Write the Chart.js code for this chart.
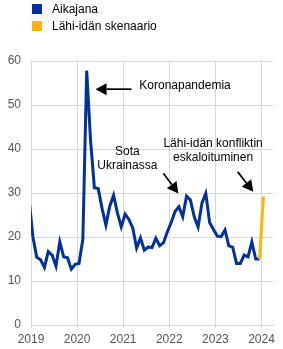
<!DOCTYPE html>
<html>
<head>
<meta charset="utf-8">
<script src="https://cdn.jsdelivr.net/npm/chart.js@4"></script>
<style>
  body { margin: 0; background: #fff; font-family: 'Liberation Sans', Arial, sans-serif; }
  #wrap { position: relative; width: 283px; height: 349px; }
  #legend { position: absolute; left: 32px; top: 2px; font-size: 12px; color: #000; }
  #legend div { height: 17px; line-height: 14px; white-space: nowrap; }
  #legend span { display: inline-block; width: 10px; height: 10px; margin-right: 10px; vertical-align: -1px; }
</style>
</head>
<body>
<div id="wrap">
  <canvas id="chart"></canvas>
  <div id="legend">
    <div><span style="background:#003299"></span>Aikajana</div>
    <div><span style="background:#ffb400"></span>Lähi-idän skenaario</div>
  </div>
</div>
<script>
/* monthly index, first value = Dec 2018 */
const START_YEAR = 2018, START_MONTH = 11;
const timeline = [
  28.5,
  20.0, 15.4, 14.8, 13.1, 16.7, 15.9, 13.4, 18.9, 15.5, 15.3, 12.7, 13.8,
  14.0, 19.5, 57.8, 42.0, 31.2, 31.0, 26.5, 22.7, 27.0, 29.5, 25.5, 22.3,
  25.2, 24.0, 22.0, 17.5, 19.8, 17.0, 17.7, 17.6, 19.7, 18.0, 18.7, 21.2,
  23.3, 25.8, 26.9, 24.6, 29.3, 28.4, 24.6, 22.3, 27.7, 29.9, 23.3, 21.7,
  20.2, 20.1, 21.6, 18.0, 17.7, 14.0, 14.0, 15.9, 15.5, 18.9, 15.0, 15.0
];
/* scenario: Dec 2023 -> Jan 2024 */
const scenario = [15.0, 29.2];
const scenarioStart = timeline.length - 1;
const yearTicks = [2019, 2020, 2021, 2022, 2023, 2024];

const monthX = i => {
  const m = START_MONTH + i;
  return START_YEAR + Math.floor(m / 12) + ((m % 12) + 0.5) / 12;
};

const notes = [
  { lines: ['Koronapandemia'], x: 2021.35, y: 54.3, align: 'left' },
  { lines: ['Sota', 'Ukrainassa'], x: 2021.09, y: 39.4, align: 'center' },
  { lines: ['Lähi-idän konfliktin', 'eskaloituminen'], x: 2022.95, y: 41.1, align: 'center' }
];
const arrows = [
  { from: [2021.18, 53.6], to: [2020.40, 53.6] },
  { from: [2021.87, 34.5], to: [2022.195, 29.9] },
  { from: [2023.484, 34.8], to: [2023.822, 30.3] }
];

const GRID = '#d9d9d9';
const TICK = '#555555';
const FONT = { family: "'Liberation Sans', Arial, sans-serif", size: 12 };

const notesPlugin = {
  id: 'notes',
  afterDatasetsDraw(chart) {
    const { ctx, scales: { x, y } } = chart;
    ctx.save();
    ctx.fillStyle = '#000';
    ctx.strokeStyle = '#000';
    ctx.font = '12px ' + FONT.family;
    ctx.textBaseline = 'middle';
    notes.forEach(n => {
      ctx.textAlign = n.align;
      n.lines.forEach((t, i) => ctx.fillText(t, x.getPixelForValue(n.x), y.getPixelForValue(n.y) + i * 14));
    });
    arrows.forEach(a => {
      const x1 = x.getPixelForValue(a.from[0]), y1 = y.getPixelForValue(a.from[1]);
      const x2 = x.getPixelForValue(a.to[0]), y2 = y.getPixelForValue(a.to[1]);
      const ang = Math.atan2(y2 - y1, x2 - x1);
      const len = 11, half = 6;
      const bx = x2 - len * Math.cos(ang), by = y2 - len * Math.sin(ang);
      ctx.lineWidth = 1.7;
      ctx.beginPath();
      ctx.moveTo(x1, y1);
      ctx.lineTo(bx, by);
      ctx.stroke();
      ctx.beginPath();
      ctx.moveTo(x2, y2);
      ctx.lineTo(bx + half * Math.sin(ang), by - half * Math.cos(ang));
      ctx.lineTo(bx - half * Math.sin(ang), by + half * Math.cos(ang));
      ctx.closePath();
      ctx.fill();
    });
    ctx.restore();
  }
};

new Chart(document.getElementById('chart'), {
  type: 'line',
  data: {
    datasets: [
      {
        label: 'Lähi-idän skenaario',
        data: scenario.map((v, i) => ({ x: monthX(scenarioStart + i), y: v })),
        borderColor: '#ffb400',
        borderWidth: 3,
        pointRadius: 0,
        order: 0
      },
      {
        label: 'Aikajana',
        data: timeline.map((v, i) => ({ x: monthX(i), y: v })),
        borderColor: '#003299',
        borderWidth: 3,
        pointRadius: 0,
        clip: { left: 0, top: 5, right: 5, bottom: 5 },
        order: 1
      }
    ]
  },
  options: {
    responsive: true,
    maintainAspectRatio: false,
    animation: false,
    layout: { padding: { top: 61, right: 10, left: 0, bottom: 0 } },
    plugins: { legend: { display: false }, tooltip: { enabled: false } },
    scales: {
      x: {
        type: 'linear',
        min: 2019, max: 2024.25,
        afterBuildTicks: s => { s.ticks = yearTicks.map(v => ({ value: v })); },
        afterFit: s => { s.height = 24; },
        grid: { color: GRID, lineWidth: 1, tickLength: 3, tickColor: GRID },
        border: { color: GRID },
        ticks: { color: TICK, font: FONT, padding: 4, maxRotation: 0, callback: v => String(v) }
      },
      y: {
        min: 0, max: 60,
        afterFit: s => { s.width = 31; },
        grid: { color: GRID, lineWidth: 1, drawTicks: false },
        border: { color: GRID },
        ticks: { color: TICK, font: FONT, stepSize: 10, padding: 10 }
      }
    }
  },
  plugins: [notesPlugin]
});
</script>
</body>
</html>
